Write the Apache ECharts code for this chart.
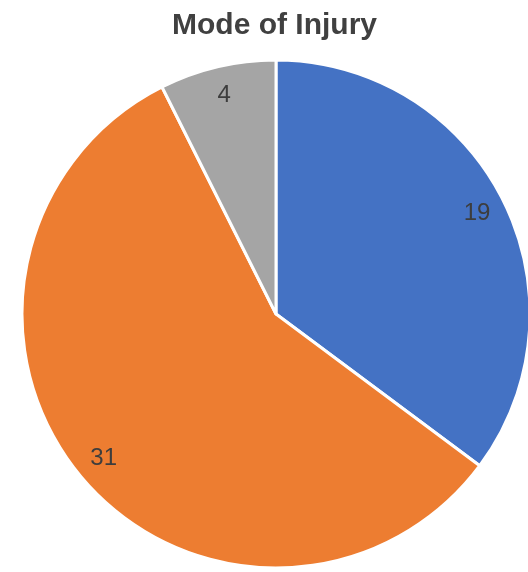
<!DOCTYPE html>
<html>
<head>
<meta charset="utf-8">
<script src="https://cdn.jsdelivr.net/npm/echarts@6/dist/echarts.min.js"></script>
<style>
html,body{margin:0;padding:0;background:#fff;}
#chart{width:528px;height:572px;}
</style>
</head>
<body>
<div id="chart"></div>
<script>
const categories = ["Category 1", "Category 2", "Category 3"];
const values = [19, 31, 4];
const colors = ["#4472C4", "#ED7D31", "#A5A5A5"];

const chart = echarts.init(document.getElementById('chart'), null, {renderer: 'canvas'});
const pieData = categories.map((c, i) => ({name: c, value: values[i], itemStyle: {color: colors[i]}}));
chart.setOption({
  animation: false,
  backgroundColor: '#ffffff',
  title: {
    text: 'Mode of Injury',
    left: 167,
    top: 6,
    textStyle: {fontFamily: 'Liberation Sans, Arial, sans-serif', fontWeight: 'bold', fontSize: 30, color: '#404040'}
  },
  series: [
    {
      type: 'pie',
      center: [276, 314],
      radius: [0, 254],
      startAngle: 90,
      clockwise: true,
      silent: true,
      label: {show: false},
      labelLine: {show: false},
      itemStyle: {borderColor: '#ffffff', borderWidth: 3},
      data: pieData
    },
    {
      type: 'pie',
      center: [276, 314],
      radius: [190, 254],
      startAngle: 90,
      clockwise: true,
      silent: true,
      itemStyle: {color: 'rgba(0,0,0,0)', borderWidth: 0},
      label: {
        show: true,
        position: 'inside',
        formatter: '{c}',
        fontFamily: 'Liberation Sans, Arial, sans-serif',
        fontSize: 24,
        color: '#3d3d3d'
      },
      labelLine: {show: false},
      data: categories.map((c, i) => ({name: c, value: values[i]}))
    }
  ]
});
</script>
</body>
</html>
